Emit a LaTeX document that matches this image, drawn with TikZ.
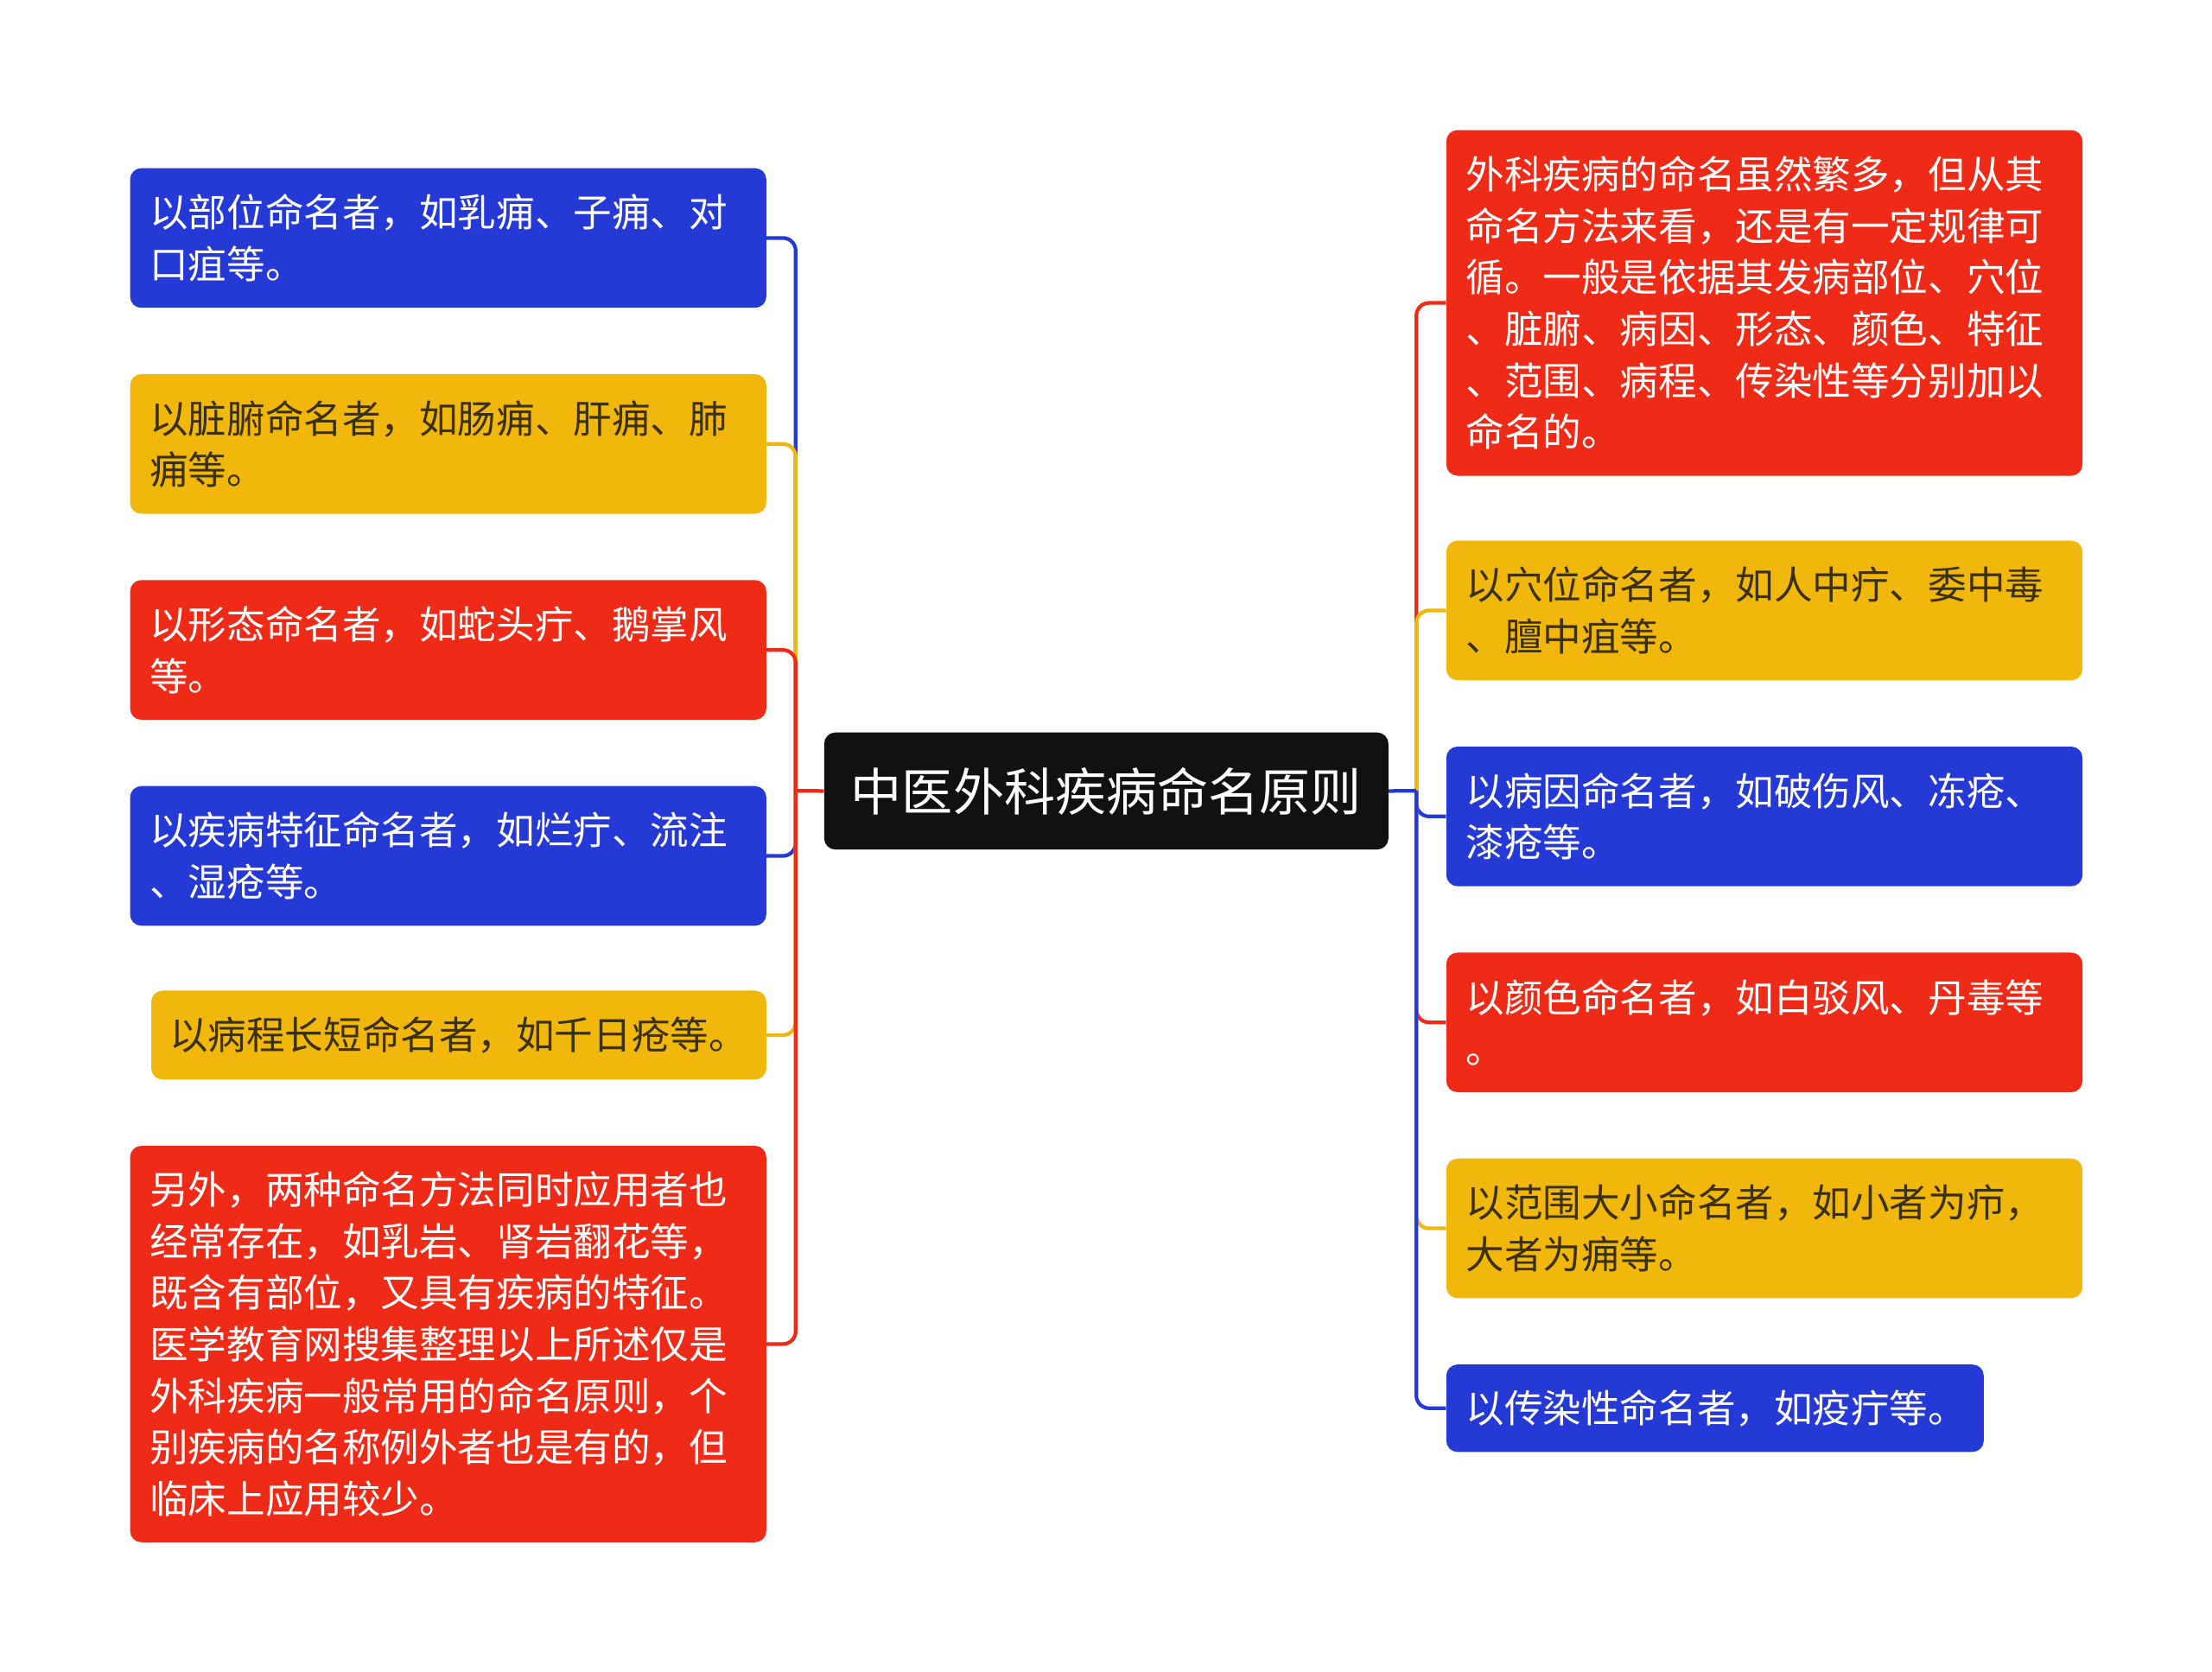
\documentclass[tikz,border=0pt]{standalone}
\usepackage{fontspec}
\newfontfamily\cjk{Noto Sans CJK SC}
\definecolor{mred}{HTML}{EF2A17}
\definecolor{mblue}{HTML}{2539D6}
\definecolor{myellow}{HTML}{F1B80B}
\definecolor{mdark}{HTML}{3A300A}
\definecolor{mblack}{HTML}{111111}
\begin{document}
\begin{tikzpicture}[x=1pt,y=-1pt,
  box/.style={rectangle, rounded corners=8pt, anchor=north west, inner xsep=14pt, inner ysep=0pt,
    align=left, font=\cjk\fontsize{27.3}{36.5}\selectfont},
  bw/.style={minimum width=451pt, text width=423pt},
  h2/.style={minimum height=99pt},
  redbox/.style={box, fill=mred, text=white},
  bluebox/.style={box, fill=mblue, text=white},
  yellowbox/.style={box, fill=myellow, text=mdark},
  conn/.style={line width=2.6pt, rounded corners=9pt},
  stub/.style={line width=2.6pt}
]
\fill[white] (0,0) rectangle (1568,1185);
\useasboundingbox (0,0) rectangle (1568,1185);

% center
\node[rectangle, rounded corners=8pt, anchor=north west, fill=mblack, text=white,
  minimum width=400pt, minimum height=83pt, inner sep=0pt,
  font=\cjk\fontsize{36.2}{40}\selectfont] (C) at (584,519) {中医外科疾病命名原则};

% left boxes
\node[bluebox, bw, h2] (L1) at (92,119) {以部位命名者，如乳痈、子痈、对\\口疽等。};
\node[yellowbox, bw, h2] (L2) at (92,265) {以脏腑命名者，如肠痈、肝痈、肺\\痈等。};
\node[redbox, bw, h2] (L3) at (92,411) {以形态命名者，如蛇头疔、鹅掌风\\等。};
\node[bluebox, bw, h2] (L4) at (92,557) {以疾病特征命名者，如烂疔、流注\\、湿疮等。};
\node[yellowbox, minimum width=436pt, text width=410pt, minimum height=63pt, inner xsep=13pt] (L5) at (107,702) {以病程长短命名者，如千日疮等。};
\node[redbox, bw, minimum height=281pt] (L6) at (92,812) {另外，两种命名方法同时应用者也\\经常存在，如乳岩、肾岩翻花等，\\既含有部位，又具有疾病的特征。\\医学教育网搜集整理以上所述仅是\\外科疾病一般常用的命名原则，个\\别疾病的名称例外者也是有的，但\\临床上应用较少。};

% right boxes
\node[redbox, bw, minimum height=245pt] (R1) at (1025,92) {外科疾病的命名虽然繁多，但从其\\命名方法来看，还是有一定规律可\\循。一般是依据其发病部位、穴位\\、脏腑、病因、形态、颜色、特征\\、范围、病程、传染性等分别加以\\命名的。};
\node[yellowbox, bw, h2] (R2) at (1025,383) {以穴位命名者，如人中疔、委中毒\\、膻中疽等。};
\node[bluebox, bw, h2] (R3) at (1025,529) {以病因命名者，如破伤风、冻疮、\\漆疮等。};
\node[redbox, bw, h2] (R4) at (1025,675) {以颜色命名者，如白驳风、丹毒等\\。};
\node[yellowbox, bw, h2] (R5) at (1025,821) {以范围大小命名者，如小者为疖，\\大者为痈等。};
\node[bluebox, minimum width=381pt, text width=353pt, minimum height=62pt] (R6) at (1025,967) {以传染性命名者，如疫疔等。};

% junctions
\coordinate (LJ) at (564,560.5);
\coordinate (RJ) at (1004,560.5);

% left connectors
\draw[conn, mblue] (LJ) |- (L1.east);
\draw[conn, myellow] (LJ) |- (L2.east);
\draw[conn, mred] (LJ) |- (L3.east);
\draw[conn, mblue] (LJ) |- (L4.east);
\draw[conn, myellow] (LJ) |- (L5.east);
\draw[conn, mred] (LJ) |- (L6.east);
\draw[stub, mred] (C.west) -- (LJ);

% right connectors
\draw[conn, mred] (RJ) |- (R1.west);
\draw[conn, myellow] (RJ) |- (R2.west);
\draw[conn, mblue] (RJ) |- (R3.west);
\draw[conn, mred] (RJ) |- (R4.west);
\draw[conn, myellow] (RJ) |- (R5.west);
\draw[conn, mblue] (RJ) |- (R6.west);
\draw[stub, mblue] (C.east) -- (RJ);
\end{tikzpicture}
\end{document}
